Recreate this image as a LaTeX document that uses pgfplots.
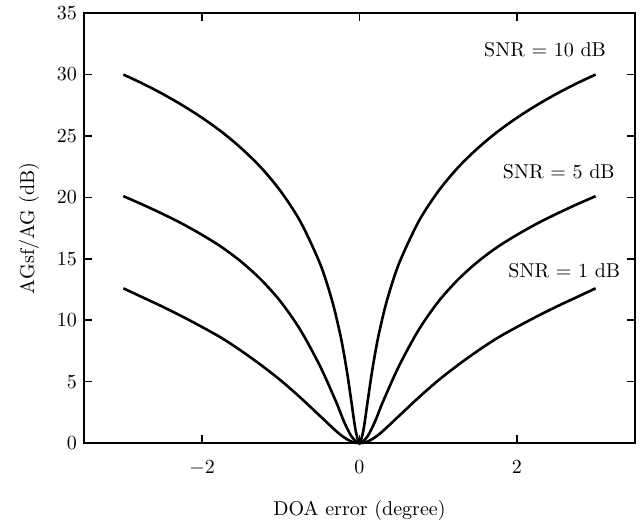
\documentclass[border=0pt]{standalone}
\usepackage{pgfplots}
\pgfplotsset{compat=1.18}
\begin{document}
\begin{tikzpicture}
	\begin{axis}[
		scale only axis,
		width=275.5pt, height=215pt,
		xmin=-3.5, xmax=3.5,
		ymin=0, ymax=35,
		xtick={-2,0,2}, ytick={0,5,...,35},
		tick align=inside,
		major tick length=4pt,
		axis line style={line width=1pt},
		tick style={black, line width=0.8pt},
		xticklabel style={yshift=-5pt},
		xlabel={DOA error (degree)},
		ylabel={AGsf/AG (dB)},
		xlabel style={yshift=-6pt},
		ylabel style={yshift=2pt},
		every axis plot post/.append style={black, mark=none, line width=1.3pt, smooth},
		clip=false]

		% SNR = 10 dB
		\addplot coordinates {(-3,30.0) (-2.75,29.25) (-2.5,28.42) (-2.25,27.5) (-2,26.48)
			(-1.75,25.33) (-1.5,23.99) (-1.25,22.42) (-1,20.49) (-0.75,18.02) (-0.5,14.59)
			(-0.35,11.64) (-0.25,9.0) (-0.2,7.36) (-0.15,5.44) (-0.1,3.24) (-0.05,1.06) (0,0)
			(0.05,1.06) (0.1,3.24) (0.15,5.44) (0.2,7.36) (0.25,9.0) (0.35,11.64) (0.5,14.59)
			(0.75,18.02) (1,20.49) (1.25,22.42) (1.5,23.99) (1.75,25.33) (2,26.48)
			(2.25,27.5) (2.5,28.42) (2.75,29.25) (3,30.0)};
		% SNR = 5 dB
		\addplot coordinates {(-3,20.1) (-2.75,19.4) (-2.5,18.65) (-2.25,17.85) (-2,16.95)
			(-1.75,15.95) (-1.5,14.75) (-1.25,13.3) (-1,11.5) (-0.75,9.2) (-0.5,6.25)
			(-0.3,3.4) (-0.2,1.8) (-0.1,0.53) (0,0)
			(0.1,0.53) (0.2,1.8) (0.3,3.4) (0.5,6.25) (0.75,9.2) (1,11.5) (1.25,13.3)
			(1.5,14.75) (1.75,15.95) (2,16.95) (2.25,17.85) (2.5,18.65) (2.75,19.4) (3,20.1)};
		% SNR = 1 dB
		\addplot coordinates {(-3,12.6) (-2.75,11.85) (-2.5,11.1) (-2.25,10.3) (-2,9.45)
			(-1.75,8.55) (-1.5,7.5) (-1.25,6.35) (-1,5.1) (-0.75,3.7) (-0.5,2.2)
			(-0.25,0.72) (-0.1,0.12) (0,0)
			(0.1,0.12) (0.25,0.72) (0.5,2.2) (0.75,3.7) (1,5.1) (1.25,6.35) (1.5,7.5)
			(1.75,8.55) (2,9.45) (2.25,10.3) (2.5,11.1) (2.75,11.85) (3,12.6)};

		\node[anchor=east] at (axis cs:3.22,32.0) {SNR = 10 dB};
		\node[anchor=east] at (axis cs:3.33,22.1) {SNR = 5 dB};
		\node[anchor=east] at (axis cs:3.40,14.0) {SNR = 1 dB};

		% keep the page margins of the reference
		\path (rel axis cs:0,0) ++(-42pt,-38.5pt);
		\path (rel axis cs:1,1) ++(4pt,5pt);
	\end{axis}
\end{tikzpicture}
\end{document}
